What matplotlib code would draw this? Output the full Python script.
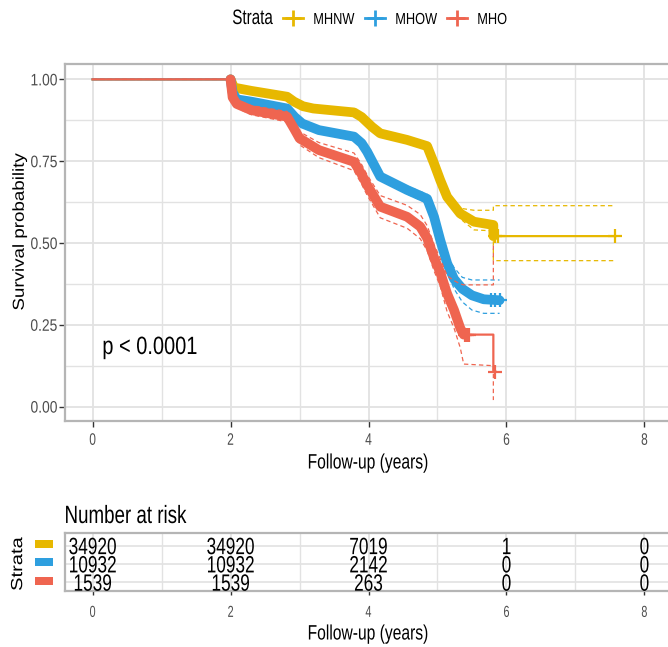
import numpy as np
import matplotlib
matplotlib.use("Agg")
import matplotlib.pyplot as plt
from matplotlib.lines import Line2D
from matplotlib.patches import Rectangle
from matplotlib.patheffects import AbstractPathEffect
from matplotlib.transforms import Affine2D

# ---------------- data ----------------
strata = ["MHNW", "MHOW", "MHO"]
colors = ["#E7B800", "#2E9FDF", "#EF6550"]

t_mhnw = [0, 2.0, 2.05, 2.3, 2.82, 2.92, 3.05, 3.2, 3.79, 3.9, 4.05, 4.17, 4.56, 4.85, 4.95, 5.04, 5.14, 5.33, 5.53, 5.81, 5.81, 7.58]
s_mhnw = [1.0, 1.0, 0.975, 0.965, 0.947, 0.932, 0.918, 0.911, 0.899, 0.885, 0.855, 0.835, 0.815, 0.796, 0.743, 0.692, 0.641, 0.59, 0.565, 0.555, 0.521, 0.521]
up_mhnw = [1.0, 1.0, 0.978, 0.968, 0.951, 0.936, 0.922, 0.915, 0.904, 0.890, 0.861, 0.841, 0.821, 0.803, 0.752, 0.702, 0.652, 0.606, 0.60, 0.60, 0.614, 0.614]
lo_mhnw = [1.0, 1.0, 0.972, 0.962, 0.943, 0.928, 0.914, 0.907, 0.894, 0.880, 0.849, 0.829, 0.809, 0.789, 0.734, 0.682, 0.630, 0.574, 0.54, 0.537, 0.446, 0.446]
cens_t_mhnw = [5.84, 5.88, 7.58]
cens_s_mhnw = [0.521, 0.521, 0.521]

t_mhow = [0, 2.0, 2.03, 2.09, 2.3, 2.82, 2.93, 3.04, 3.28, 3.79, 3.9, 3.98, 4.17, 4.56, 4.85, 4.95, 5.04, 5.14, 5.24, 5.36, 5.5, 5.67, 5.9]
s_mhow = [1.0, 1.0, 0.96, 0.939, 0.932, 0.911, 0.885, 0.865, 0.845, 0.825, 0.805, 0.779, 0.703, 0.662, 0.635, 0.58, 0.509, 0.438, 0.39, 0.36, 0.34, 0.328, 0.325]
up_mhow = [1.0, 1.0, 0.963, 0.943, 0.936, 0.916, 0.891, 0.871, 0.852, 0.833, 0.813, 0.788, 0.713, 0.674, 0.649, 0.596, 0.527, 0.46, 0.425, 0.395, 0.387, 0.387, 0.387]
lo_mhow = [1.0, 1.0, 0.957, 0.935, 0.928, 0.906, 0.879, 0.859, 0.838, 0.817, 0.797, 0.77, 0.693, 0.65, 0.621, 0.564, 0.491, 0.416, 0.36, 0.32, 0.295, 0.285, 0.285]
cens_t_mhow = [5.78, 5.84, 5.9]
cens_s_mhow = [0.325, 0.325, 0.325]

t_mho = [0, 2.0, 2.03, 2.09, 2.3, 2.82, 2.92, 3.0, 3.28, 3.79, 3.9, 3.98, 4.17, 4.56, 4.75, 4.85, 4.95, 5.04, 5.14, 5.24, 5.33, 5.38, 5.81, 5.81, 5.84]
s_mho = [1.0, 1.0, 0.945, 0.925, 0.906, 0.886, 0.85, 0.82, 0.784, 0.748, 0.71, 0.677, 0.611, 0.58, 0.55, 0.515, 0.455, 0.41, 0.345, 0.295, 0.24, 0.22, 0.22, 0.107, 0.107]
ci_t_mho = [0, 2.0, 2.03, 2.09, 2.3, 2.82, 2.92, 3.0, 3.28, 3.79, 3.9, 3.98, 4.17, 4.56, 4.75, 4.85, 4.95, 5.04, 5.14, 5.24, 5.33, 5.38, 5.81, 5.81]
up_mho = [1.0, 1.0, 0.955, 0.937, 0.92, 0.902, 0.868, 0.84, 0.807, 0.775, 0.74, 0.708, 0.645, 0.615, 0.587, 0.553, 0.495, 0.452, 0.40, 0.385, 0.375, 0.372, 0.372, 0.50]
lo_mho = [1.0, 1.0, 0.935, 0.913, 0.892, 0.87, 0.832, 0.80, 0.761, 0.721, 0.68, 0.646, 0.577, 0.545, 0.513, 0.477, 0.415, 0.368, 0.29, 0.24, 0.18, 0.13, 0.125, 0.02]
cens_t_mho = [5.40, 5.43, 5.46, 5.83]
cens_s_mho = [0.22, 0.22, 0.22, 0.107]

band_end = [5.81, 5.9, 5.38]

risk_times = [0, 2, 4, 6, 8]
risk_mhnw = [34920, 34920, 7019, 1, 0]
risk_mhow = [10932, 10932, 2142, 0, 0]
risk_mho = [1539, 1539, 263, 0, 0]

x_ticks = [0, 2, 4, 6, 8]
y_ticks = [0.0, 0.25, 0.5, 0.75, 1.0]
y_ticklabels = ["0.00", "0.25", "0.50", "0.75", "1.00"]


# ---------------- condensed-text effect ----------------
class Squeeze(AbstractPathEffect):
    """Draw text condensed (like the reference's narrow rendering)."""

    def __init__(self, kx=1.0, ky=1.0, anchor="center"):
        super().__init__()
        self.kx, self.ky, self.anchor = kx, ky, anchor

    def draw_path(self, renderer, gc, tpath, affine, rgbFace=None):
        ext = tpath.get_extents()
        if self.anchor == "left":
            cx = ext.x0
        elif self.anchor == "right":
            cx = ext.x1
        else:
            cx = 0.5 * (ext.x0 + ext.x1)
        cy = 0.5 * (ext.y0 + ext.y1)
        tr = Affine2D().translate(-cx, -cy).scale(self.kx, self.ky).translate(cx, cy) + affine
        renderer.draw_path(gc, tpath, tr, rgbFace)


plt.rcParams["font.family"] = ["Liberation Sans", "DejaVu Sans"]
GRID = "#E2E2E2"
BORDER = "#B5B5B5"
TICKC = "#4D4D4D"

W, H = 668, 647
fig = plt.figure(figsize=(W / 100, H / 100), dpi=100)


def fx(px):
    return px / W


def fy(py):
    return 1 - py / H


# ---------------- main KM panel ----------------
ax = fig.add_axes([fx(65), fy(421), fx(672) - fx(65), fy(64) - fy(421)])
ax.set_xlim(-0.4, 8.4)
ax.set_ylim(-0.044, 1.047)
ax.set_xticks(x_ticks)
ax.set_xticks([1, 3, 5, 7], minor=True)
ax.set_yticks(y_ticks)
ax.set_yticklabels(y_ticklabels)
ax.set_yticks([0.125, 0.375, 0.625, 0.875], minor=True)
ax.grid(True, which="major", color=GRID, lw=1.3, zorder=0)
ax.grid(True, which="minor", color=GRID, lw=1.0, zorder=0)
ax.set_axisbelow(True)
for sp in ax.spines.values():
    sp.set_color(BORDER)
    sp.set_linewidth(1.6)
ax.tick_params(which="major", length=4, width=1.0, color="#333333",
               labelsize=12, labelcolor=TICKC)
ax.tick_params(axis="x", pad=4.5)
ax.tick_params(axis="y", pad=1.5)
ax.tick_params(which="minor", length=0)
for tk in ax.xaxis.get_major_ticks():
    tk.label1.set_path_effects([Squeeze(0.72, 1, "center")])
for tk in ax.yaxis.get_major_ticks():
    tk.label1.set_path_effects([Squeeze(0.83, 1, "right")])

groups = [
    (t_mhnw, s_mhnw, t_mhnw, up_mhnw, lo_mhnw, cens_t_mhnw, cens_s_mhnw),
    (t_mhow, s_mhow, t_mhow, up_mhow, lo_mhow, cens_t_mhow, cens_s_mhow),
    (t_mho, s_mho, ci_t_mho, up_mho, lo_mho, cens_t_mho, cens_s_mho),
]
for i, (t, s, ct, up, lo, ctt, cs) in enumerate(groups):
    c = colors[i]
    t = np.asarray(t)
    s = np.asarray(s)
    z = 3 + i
    ax.plot(ct, up, color=c, lw=0.9, ls=(0, (3.5, 2.5)), zorder=z)
    ax.plot(ct, lo, color=c, lw=0.9, ls=(0, (3.5, 2.5)), zorder=z)
    m = (t >= 2.0) & (t <= band_end[i])
    ax.plot(t[m], s[m], color=c, lw=7.0, solid_capstyle="round",
            solid_joinstyle="round", zorder=z)
    ax.plot(t, s, color=c, lw=1.6, zorder=z)
    ax.plot(ctt, cs, ls="none", marker="+", ms=10, mew=1.6, color=c, zorder=z)

fig.text(fx(102), fy(354), "p < 0.0001", fontsize=18, color="black",
         ha="left", va="baseline", path_effects=[Squeeze(0.8, 1, "left")])
fig.text(fx(368), fy(463), "Follow-up (years)", fontsize=15, color="black",
         ha="center", va="center", path_effects=[Squeeze(0.75, 1, "center")])
fig.text(fx(20), fy(232), "Survival probability", rotation=90, fontsize=13.5,
         ha="center", va="center", path_effects=[Squeeze(1, 0.85, "center")])

# ---------------- legend (top) ----------------
fig.text(fx(232), fy(24), "Strata", fontsize=15, ha="left", va="baseline",
         path_effects=[Squeeze(0.73, 1, "left")])
key_x = [283, 365, 447]
for c, name, kx in zip(colors, strata, key_x):
    fig.add_artist(Line2D([fx(kx), fx(kx + 20)], [fy(17.5), fy(17.5)],
                          transform=fig.transFigure, color=c, lw=2))
    fig.add_artist(Line2D([fx(kx + 10)], [fy(17.5)], transform=fig.transFigure,
                          color=c, marker="+", ms=11, mew=2, ls="none"))
    fig.text(fx(kx + 30), fy(24), name, fontsize=11.5, ha="left", va="baseline",
             path_effects=[Squeeze(0.8, 1, "left")])

# ---------------- risk table ----------------
tb = fig.add_axes([fx(65), fy(591), fx(672) - fx(65), fy(533) - fy(591)])
tb.set_xlim(-0.4, 8.4)
tb.set_ylim(0.52, 3.69)
tb.set_xticks(x_ticks)
tb.set_xticks([1, 3, 5, 7], minor=True)
tb.set_yticks([1, 2, 3])
tb.set_yticklabels([])
tb.grid(True, which="major", color=GRID, lw=1.2, zorder=0)
tb.grid(True, which="minor", axis="x", color=GRID, lw=1.0, zorder=0)
tb.set_axisbelow(True)
for sp in tb.spines.values():
    sp.set_color(BORDER)
    sp.set_linewidth(1.6)
tb.tick_params(axis="x", which="major", length=3, width=1.0, color="#333333",
               labelsize=11.5, labelcolor=TICKC, pad=7)
tb.tick_params(axis="y", length=0)
tb.tick_params(which="minor", length=0)
for tk in tb.xaxis.get_major_ticks():
    tk.label1.set_path_effects([Squeeze(0.68, 1, "center")])

rows = [risk_mhnw, risk_mhow, risk_mho]
row_unit = 18.3  # pixels per table row
for r, vals in enumerate(rows):
    yrow = 3 - r
    for xt, v in zip(risk_times, vals):
        tb.text(xt, yrow - 8.5 / row_unit, str(v), fontsize=17, ha="center",
                va="baseline", color="black",
                path_effects=[Squeeze(0.73, 1, "center")])
    fig.add_artist(Rectangle((fx(35), fy(544 + 18.3 * r) - 4 / H), 18 / W, 8 / H,
                             transform=fig.transFigure, color=colors[r], lw=0))

fig.text(fx(368), fy(634), "Follow-up (years)", fontsize=15, color="black",
         ha="center", va="center", path_effects=[Squeeze(0.75, 1, "center")])
fig.text(fx(64), fy(523), "Number at risk", fontsize=18, ha="left",
         va="baseline", path_effects=[Squeeze(0.75, 1, "left")])
fig.text(fx(18), fy(564), "Strata", rotation=90, fontsize=14.5,
         ha="center", va="center", path_effects=[Squeeze(1, 0.8, "center")])

fig.savefig("out.png", dpi=100)
